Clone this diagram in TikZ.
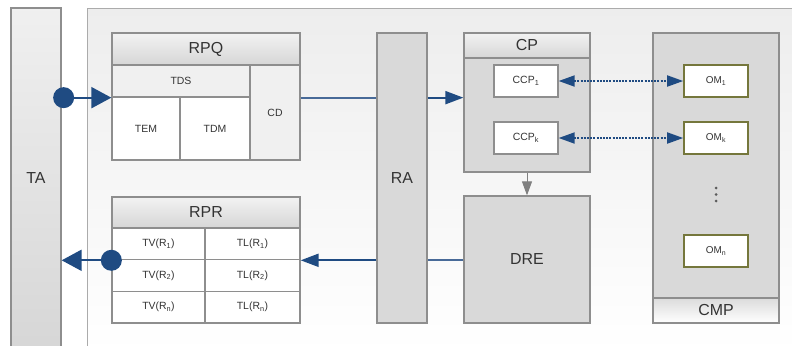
\documentclass[tikz,border=0pt]{standalone}
\usepackage{fontspec}
\setmainfont{Liberation Sans}
\usetikzlibrary{arrows.meta}
\definecolor{edge}{HTML}{8E8E8E}
\definecolor{paneledge}{HTML}{ABABAB}
\definecolor{boxfill}{HTML}{D9D9D9}
\definecolor{cellfill}{HTML}{F0F0F0}
\definecolor{flow}{RGB}{31,75,130}
\definecolor{flowlight}{RGB}{72,106,152}
\definecolor{olive}{HTML}{75773C}
\definecolor{ink}{HTML}{333333}
\begin{document}
\begin{tikzpicture}[x=1bp,y=-1bp,
  box/.style={draw=edge, line width=1.3bp, inner sep=0pt, text=ink},
  grey/.style={box, fill=boxfill},
  header/.style={box, top color=white!95!black, bottom color=white!84!black},
  cell/.style={box, fill=white},
  lightcell/.style={box, fill=cellfill},
  ombox/.style={draw=olive, line width=1.6bp, fill=white, inner sep=0pt, text=ink,
    minimum width=64bp, minimum height=32bp, font=\fontsize{10}{12}\selectfont},
  bigtext/.style={font=\fontsize{16}{18}\selectfont},
  smalltext/.style={font=\fontsize{10.5}{12}\selectfont},
  flowline/.style={draw=flow, line width=2bp},
  linkline/.style={draw=flowlight, line width=1.8bp},
  bigtip/.style={-{Triangle[length=20bp,width=21bp]}},
  midtip/.style={-{Triangle[length=18bp,width=13bp]}},
  dashline/.style={draw=flow, line width=1.8bp, dash pattern=on 2bp off 1.2bp,
    {Triangle[length=16bp,width=11bp]}-{Triangle[length=16bp,width=11bp]}},
  dot/.style={circle, fill=flow, inner sep=0pt, minimum size=21bp}
]
\useasboundingbox (0,0) rectangle (792,345);

% background panel and the terminal column
\node[draw=paneledge, line width=1bp, top color=white!93!black, bottom color=white,
      minimum width=720bp, minimum height=345bp, inner sep=0pt, anchor=north west]
      (panel) at (87,8) {};
\node[box, top color=white!94!black, bottom color=white!84!black,
      minimum width=50bp, minimum height=345bp] (ta) at (36,180.5) {};
\node[bigtext, text=ink] (talabel) at (36,178) {TA};

% RPQ block
\node[header, bigtext, minimum width=188bp, minimum height=32bp] (rpq) at (206,49) {RPQ};
\node[lightcell, smalltext, minimum width=138bp, minimum height=32bp] (tds) at (181,81) {TDS};
\node[cell, smalltext, minimum width=68bp, minimum height=63bp] (tem) at (146,128.5) {TEM};
\node[cell, smalltext, minimum width=70bp, minimum height=63bp] (tdm) at (215,128.5) {TDM};
\node[lightcell, smalltext, minimum width=50bp, minimum height=95bp] (cd) at (275,112.5) {CD};

% RPR block
\node[header, bigtext, minimum width=188bp, minimum height=31bp] (rpr) at (206,212.5) {RPR};
\node[cell, smalltext, minimum width=93bp, minimum height=31.7bp] (tv1) at (158.5,243.8) {TV(R\textsubscript{1})};
\node[cell, smalltext, minimum width=95bp, minimum height=31.7bp] (tl1) at (252.5,243.8) {TL(R\textsubscript{1})};
\node[cell, smalltext, minimum width=93bp, minimum height=31.7bp] (tv2) at (158.5,275.5) {TV(R\textsubscript{2})};
\node[cell, smalltext, minimum width=95bp, minimum height=31.7bp] (tl2) at (252.5,275.5) {TL(R\textsubscript{2})};
\node[cell, smalltext, minimum width=93bp, minimum height=31.7bp] (tvn) at (158.5,307.2) {TV(R\textsubscript{n})};
\node[cell, smalltext, minimum width=95bp, minimum height=31.7bp] (tln) at (252.5,307.2) {TL(R\textsubscript{n})};

% RA column
\node[grey, bigtext, minimum width=50bp, minimum height=290bp] (ra) at (402,178) {RA};

% CP block
\node[grey, minimum width=126bp, minimum height=139bp] (cp) at (527,102.5) {};
\node[header, bigtext, minimum width=126bp, minimum height=25bp] (cphead) at (527,45.5) {CP};
\node[cell, smalltext, minimum width=64bp, minimum height=32bp] (ccp1) at (526,81) {CCP\textsubscript{1}};
\node[cell, smalltext, minimum width=64bp, minimum height=32bp] (ccpk) at (526,138) {CCP\textsubscript{k}};

% DRE block
\node[grey, bigtext, minimum width=126bp, minimum height=127bp] (dre) at (527,259.5) {DRE};

% CMP block
\node[grey, minimum width=126bp, minimum height=290bp] (cmp) at (716,178) {};
\node[box, bigtext, top color=white!86!black, bottom color=white,
      minimum width=126bp, minimum height=25bp] (cmplabel) at (716,310.5) {CMP};
\node[ombox] (om1) at (716,81) {OM\textsubscript{1}};
\node[ombox] (omk) at (716,138) {OM\textsubscript{k}};
\node[ombox] (omn) at (716,251) {OM\textsubscript{n}};
\foreach \yy in {188,194.5,201}
  \fill[ink!80] (716,\yy) circle (1.5bp);

% request path
\path[flowline, bigtip] (ta.east |- tds.south) -- (tds.south west);
\path[linkline] (cd.east |- tds.south) -- (ra.west |- tds.south);
\path[flowline, midtip] (ra.east |- tds.south) -- (cp.west |- tds.south);
\node[dot] (inport) at ([xshift=2bp]ta.east |- tds.south) {};

% coordination links
\path[dashline] (ccp1.east) -- (om1.west);
\path[dashline] (ccpk.east) -- (omk.west);
\draw[edge!90!black, line width=1bp, -{Triangle[length=14bp,width=10bp]}] (cp.south) -- (dre.north);

% response path
\path[linkline] (dre.west |- tv1.south) -- (ra.east |- tv1.south);
\path[flowline, midtip] (ra.west |- tv1.south) -- (tl1.south east);
\path[flowline, bigtip] (tv1.south west) -- (ta.east |- tv1.south);
\node[dot] (outport) at (tv1.south west) {};
\end{tikzpicture}
\end{document}
